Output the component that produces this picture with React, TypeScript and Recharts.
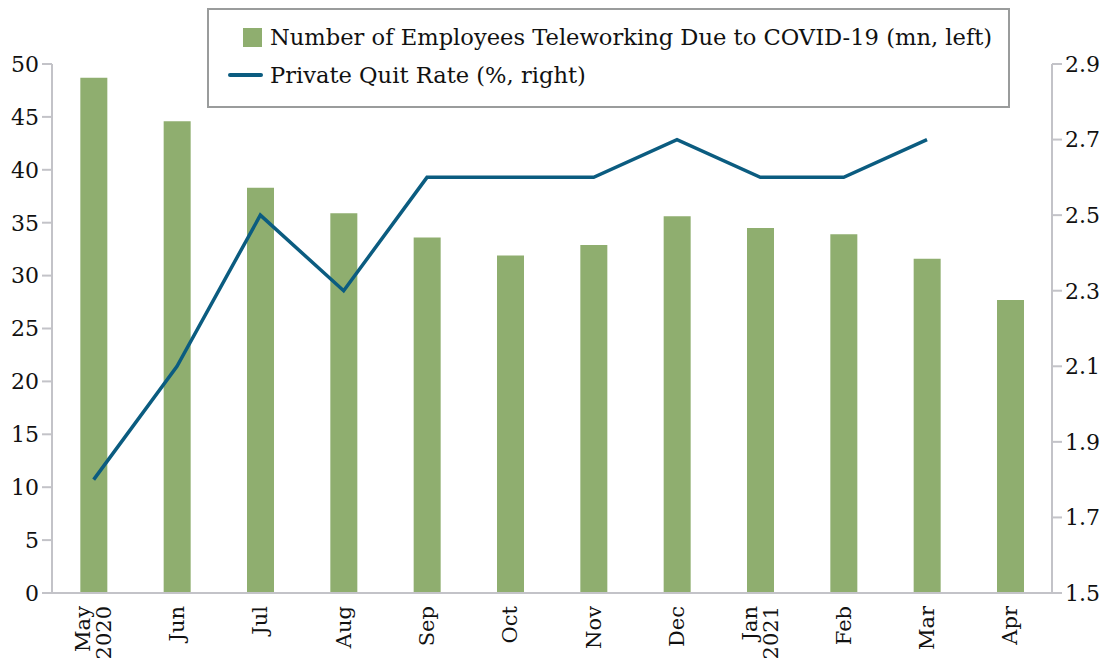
import {
  ComposedChart,
  Bar,
  Line,
  XAxis,
  YAxis,
} from "recharts";

const months = [
  "May\n2020",
  "Jun",
  "Jul",
  "Aug",
  "Sep",
  "Oct",
  "Nov",
  "Dec",
  "Jan\n2021",
  "Feb",
  "Mar",
  "Apr",
];

const teleworking = [48.7, 44.6, 38.3, 35.9, 33.6, 31.9, 32.9, 35.6, 34.5, 33.9, 31.6, 27.7];

const quitRate = [1.8, 2.1, 2.5, 2.3, 2.6, 2.6, 2.6, 2.7, 2.6, 2.6, 2.7, null];

const leftTicks = [0, 5, 10, 15, 20, 25, 30, 35, 40, 45, 50];
const rightTicks = [1.5, 1.7, 1.9, 2.1, 2.3, 2.5, 2.7, 2.9];

const BAR_NAME = "Number of Employees Teleworking Due to COVID-19 (mn, left)";
const LINE_NAME = "Private Quit Rate (%, right)";

const BAR_COLOR = "#8fae6f";
const LINE_COLOR = "#0b5c80";
const AXIS_COLOR = "#c3c3c8";
const FONT = "'DejaVu Serif', serif";

const data = months.map((m, i) => ({
  month: m,
  tele: teleworking[i],
  quit: quitRate[i],
}));

function MonthTick(props: any) {
  const { x, y, payload } = props;
  const lines = String(payload.value).split("\n");
  return (
    <g transform={`translate(${x},${y + 5}) rotate(-90)`}>
      <text textAnchor="end" fontSize={21} fontFamily={FONT} fill="#111">
        {lines.map((l, i) => (
          <tspan key={i} x={0} y={(i - (lines.length - 1) / 2) * 21 + 7}>
            {l}
          </tspan>
        ))}
      </text>
    </g>
  );
}

// legend drawn as an overlay so it doesn't push the plot area down
function LegendBox() {
  return (
    <div
      style={{
        position: "absolute",
        left: 207,
        top: 8,
        width: 803,
        height: 100,
        border: "2px solid #9a9c9c",
        background: "#fff",
        fontFamily: FONT,
        fontSize: 22.6,
        color: "#111",
        boxSizing: "border-box",
        whiteSpace: "nowrap",
      }}
    >
      <div style={{ position: "absolute", left: 34, top: 14, display: "flex", alignItems: "center" }}>
        <span style={{ display: "inline-block", width: 19, height: 19, background: BAR_COLOR, marginRight: 8 }} />
        <span>{BAR_NAME}</span>
      </div>
      <div style={{ position: "absolute", left: 19, top: 52, display: "flex", alignItems: "center" }}>
        <span style={{ display: "inline-block", width: 35, height: 4, borderRadius: 2, background: LINE_COLOR, marginRight: 7 }} />
        <span>{LINE_NAME}</span>
      </div>
    </div>
  );
}

export default function App() {
  return (
    <div style={{ position: "absolute", left: 0, top: 0, width: 1107, height: 662, background: "#fff" }}>
      <ComposedChart
        width={1107}
        height={662}
        data={data}
        margin={{ top: 64, right: 0, bottom: 0, left: 0 }}
        barCategoryGap="34%"
      >
        <XAxis
          dataKey="month"
          interval={0}
          height={69}
          tick={<MonthTick />}
          tickLine={false}
          axisLine={{ stroke: AXIS_COLOR, strokeWidth: 2 }}
        />
        <YAxis
          yAxisId="left"
          orientation="left"
          domain={[0, 50]}
          ticks={leftTicks}
          width={52}
          tickSize={10}
          tickLine={{ stroke: AXIS_COLOR, strokeWidth: 2 }}
          axisLine={{ stroke: AXIS_COLOR, strokeWidth: 2 }}
          tick={{ fill: "#111", fontSize: 22, fontFamily: FONT }}
          tickMargin={3}
        />
        <YAxis
          yAxisId="right"
          orientation="right"
          domain={[1.5, 2.9]}
          ticks={rightTicks}
          width={55}
          tickSize={10}
          tickLine={{ stroke: AXIS_COLOR, strokeWidth: 2 }}
          axisLine={{ stroke: AXIS_COLOR, strokeWidth: 2 }}
          tick={{ fill: "#111", fontSize: 22, fontFamily: FONT }}
          tickFormatter={(v: number) => v.toFixed(1)}
          tickMargin={3}
        />
        <Bar
          yAxisId="left"
          dataKey="tele"
          name={BAR_NAME}
          fill={BAR_COLOR}
          isAnimationActive={false}
        />
        <Line
          yAxisId="right"
          dataKey="quit"
          name={LINE_NAME}
          stroke={LINE_COLOR}
          strokeWidth={3.5}
          dot={false}
          activeDot={false}
          connectNulls={false}
          isAnimationActive={false}
        />
      </ComposedChart>
      <LegendBox />
    </div>
  );
}
